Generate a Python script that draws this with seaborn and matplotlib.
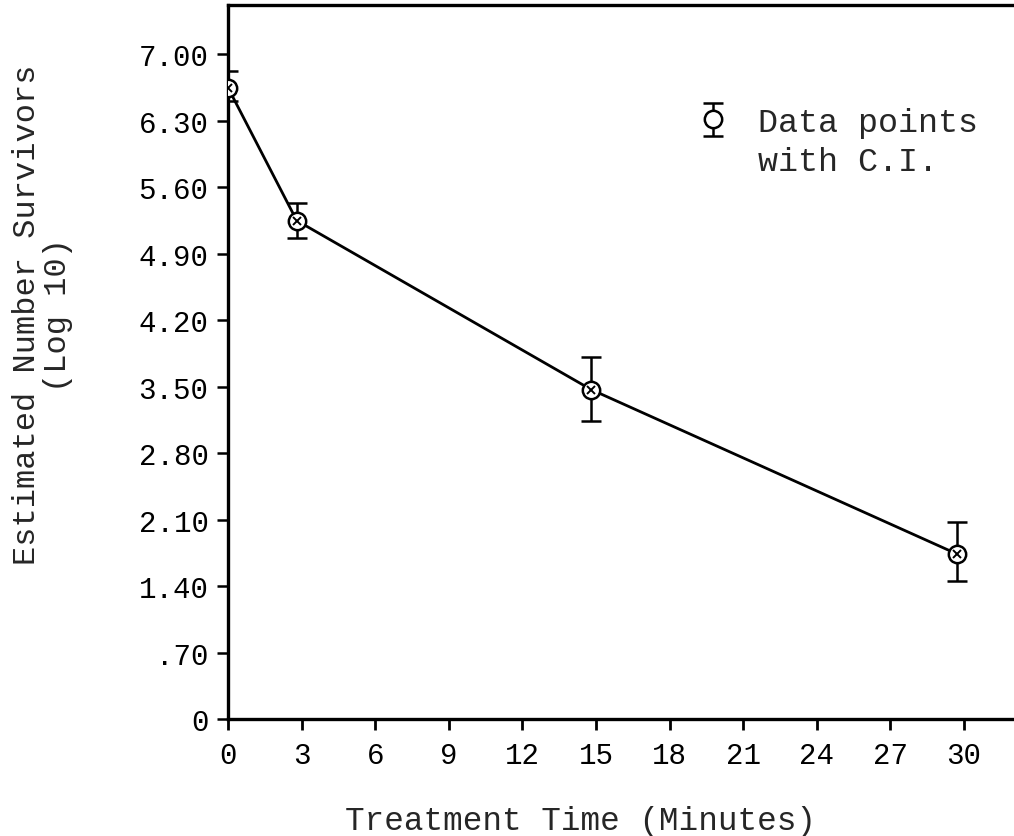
import matplotlib
matplotlib.use("Agg")
import matplotlib.pyplot as plt
from matplotlib.lines import Line2D
import seaborn as sns
import pandas as pd
import numpy as np

# ---- data ----
time_min = [0, 2.8, 14.8, 29.7]
survivors_log10 = [6.65, 5.25, 3.47, 1.74]
ci_low = [6.51, 5.07, 3.14, 1.45]
ci_high = [6.83, 5.43, 3.81, 2.08]
x_ticks = [0, 3, 6, 9, 12, 15, 18, 21, 24, 27, 30]
y_ticks = [0, 0.70, 1.40, 2.10, 2.80, 3.50, 4.20, 4.90, 5.60, 6.30, 7.00]
y_tick_labels = ["0", ".70", "1.40", "2.10", "2.80", "3.50", "4.20", "4.90",
                 "5.60", "6.30", "7.00"]
legend_lines = ["Data points", "with C.I."]

sns.set_style("ticks")
plt.rcParams["font.family"] = ["Liberation Mono", "DejaVu Sans Mono"]

df = pd.DataFrame({"time": time_min, "surv": survivors_log10})

fig = plt.figure(figsize=(10.14, 8.37), dpi=100)
ax = fig.add_axes([228 / 1014, 117 / 837, 786 / 1014, 714 / 837])

sns.lineplot(data=df, x="time", y="surv", ax=ax, color="black", lw=2.0,
             legend=False)

yerr = [np.array(survivors_log10) - np.array(ci_low),
        np.array(ci_high) - np.array(survivors_log10)]
eb = ax.errorbar(time_min, survivors_log10, yerr=yerr, fmt="o", ms=12.5,
                 mfc="white", mec="black", mew=1.8, ecolor="black",
                 elinewidth=1.8, capsize=7, capthick=2.2, zorder=3)
ax.plot(time_min, survivors_log10, ls="none", marker="x", ms=5.5, mew=1.4,
        color="black", zorder=4)

ax.set_xlim(0, 32.04)
ax.set_ylim(0, 7.52)
ax.set_xticks(x_ticks)
ax.set_xticklabels([str(t) for t in x_ticks])
ax.set_yticks(y_ticks)
ax.set_yticklabels(y_tick_labels)

for s in ["left", "bottom", "top"]:
    ax.spines[s].set_visible(True)
    ax.spines[s].set_linewidth(2.4)
    ax.spines[s].set_color("black")
ax.spines["right"].set_visible(False)

ax.tick_params(axis="x", direction="out", length=8, width=2, pad=8,
               labelsize=21, colors="black")
ax.tick_params(axis="y", direction="out", length=8, width=1.8, pad=6,
               labelsize=21, colors="black")

ax.set_xlabel("Treatment Time (Minutes)", fontsize=23.5)
ax.xaxis.set_label_coords(0.448, -0.12)
ax.set_ylabel("Estimated Number Survivors\n(Log 10)", fontsize=23,
              linespacing=1.05, multialignment="center")
ax.yaxis.set_label_coords(-0.197, 0.567)

blank = Line2D([], [], ls="none", marker="none")
leg = ax.legend(handles=[eb, blank], labels=legend_lines, loc="upper left",
                bbox_to_anchor=(700 / 1014, 1 - 108 / 837),
                bbox_transform=fig.transFigure, frameon=False, fontsize=24,
                handlelength=0.8, handletextpad=0.95, borderpad=0,
                borderaxespad=0, labelspacing=0.25)

fig.savefig("out.png", dpi=100, facecolor="white")
